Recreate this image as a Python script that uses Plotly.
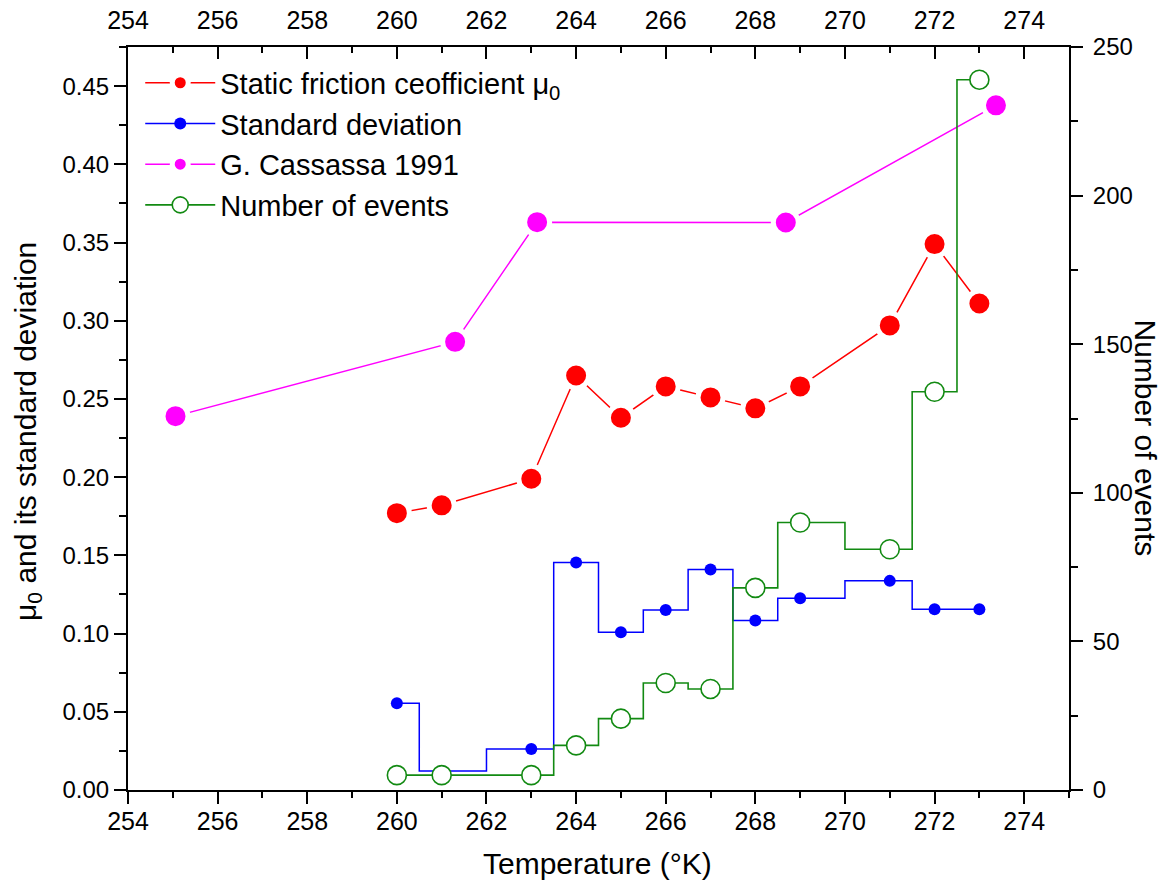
import plotly.graph_objects as go

# ---- data ----
T_mu = [260, 261, 263, 264, 265, 266, 267, 268, 269, 271, 272, 273]
mu0 = [0.177, 0.182, 0.199, 0.265, 0.238, 0.258, 0.251, 0.244, 0.258, 0.297, 0.349, 0.311]
sd = [0.0555, 0.0122, 0.0262, 0.1455, 0.1009, 0.1151, 0.1409, 0.1083, 0.1226, 0.1337, 0.1156, 0.1156]
events = [5, 5, 5, 15, 24, 36, 34, 68, 90, 81, 134, 239]
T_cas = [255.06, 261.3, 263.13, 268.68, 273.37]
mu_cas = [0.239, 0.2865, 0.363, 0.3628, 0.4377]

FONT = "Arial, Liberation Sans, sans-serif"

fig = go.Figure()

fig.add_trace(go.Scatter(
    x=T_mu, y=mu0, mode="lines+markers", name="Static friction ceofficient μ<sub>0</sub>",
    line=dict(color="#FF0000", width=1.5),
    marker=dict(color="#FF0000", size=25, line=dict(color="white", width=5)),
    xaxis="x", yaxis="y"))

fig.add_trace(go.Scatter(
    x=T_mu, y=sd, mode="lines+markers", name="Standard deviation",
    line=dict(color="#0000FF", width=1.5, shape="hvh"),
    marker=dict(color="#0000FF", size=12),
    xaxis="x", yaxis="y"))

fig.add_trace(go.Scatter(
    x=T_cas, y=mu_cas, mode="lines+markers", name="G. Cassassa 1991",
    line=dict(color="#FF00FF", width=1.5),
    marker=dict(color="#FF00FF", size=25, line=dict(color="white", width=5)),
    xaxis="x", yaxis="y"))

fig.add_trace(go.Scatter(
    x=T_mu, y=events, mode="lines+markers", name="Number of events",
    line=dict(color="#128A12", width=1.6, shape="hvh"),
    marker=dict(color="white", size=19, line=dict(color="#128A12", width=1.6)),
    xaxis="x", yaxis="y2"))

# invisible helper trace so the top axis is drawn
fig.add_trace(go.Scatter(
    x=T_mu, y=mu0, mode="markers", marker=dict(opacity=0), showlegend=False,
    hoverinfo="skip", xaxis="x2", yaxis="y"))

axis_common = dict(showline=True, linecolor="black", linewidth=2, showgrid=False,
                   zeroline=False, tickcolor="black", tickwidth=2, ticklen=12,
                   automargin=False)

fig.update_layout(
    width=1164, height=881,
    margin=dict(l=128, r=95, t=47, b=91),
    paper_bgcolor="white", plot_bgcolor="white",
    font=dict(family=FONT, color="black"),
    showlegend=True,
    legend=dict(x=0.013, y=0.986, xanchor="left", yanchor="top",
                bgcolor="rgba(0,0,0,0)", font=dict(size=29, family=FONT),
                itemwidth=70),
    xaxis=dict(range=[254, 275], dtick=2, tick0=254, ticks="outside",
               tickfont=dict(size=25), ticklabelstandoff=-4,
               minor=dict(dtick=1, ticks="outside", ticklen=6, tickcolor="black", tickwidth=2),
               **axis_common),
    xaxis2=dict(range=[254, 275], dtick=2, tick0=254, ticks="inside", overlaying="x",
                side="top", tickfont=dict(size=25), ticklabelstandoff=6,
                minor=dict(dtick=1, ticks="inside", ticklen=6, tickcolor="black", tickwidth=2),
                **axis_common),
    yaxis=dict(range=[0, 0.475], dtick=0.05, tick0=0, tickformat=".2f", ticks="outside",
               tickfont=dict(size=24),
               minor=dict(dtick=0.025, ticks="outside", ticklen=7, tickcolor="black", tickwidth=2),
               **axis_common),
    yaxis2=dict(range=[0, 250], dtick=50, tick0=0, ticks="outside", overlaying="y",
                side="right", tickfont=dict(size=24), ticklabelstandoff=5,
                minor=dict(dtick=25, ticks="outside", ticklen=7, tickcolor="black", tickwidth=2),
                **axis_common),
    annotations=[
        dict(text="Temperature (°K)", xref="paper", yref="paper", x=0.4991, y=-0.0983,
             showarrow=False, font=dict(size=30, family=FONT), xanchor="center", yanchor="middle"),
        dict(text="μ<sub>0</sub> and its standard deviation", xref="paper", yref="paper",
             x=-0.1062, y=0.482, textangle=-90, showarrow=False,
             font=dict(size=30, family=FONT), xanchor="center", yanchor="middle"),
        dict(text="Number of events", xref="paper", yref="paper", x=1.0811, y=0.474,
             textangle=90, showarrow=False, font=dict(size=30, family=FONT),
             xanchor="center", yanchor="middle"),
    ],
)

fig.write_html("out.html", config={"displayModeBar": False},
               post_script="document.body.style.margin='0';document.body.style.overflow='hidden';")
